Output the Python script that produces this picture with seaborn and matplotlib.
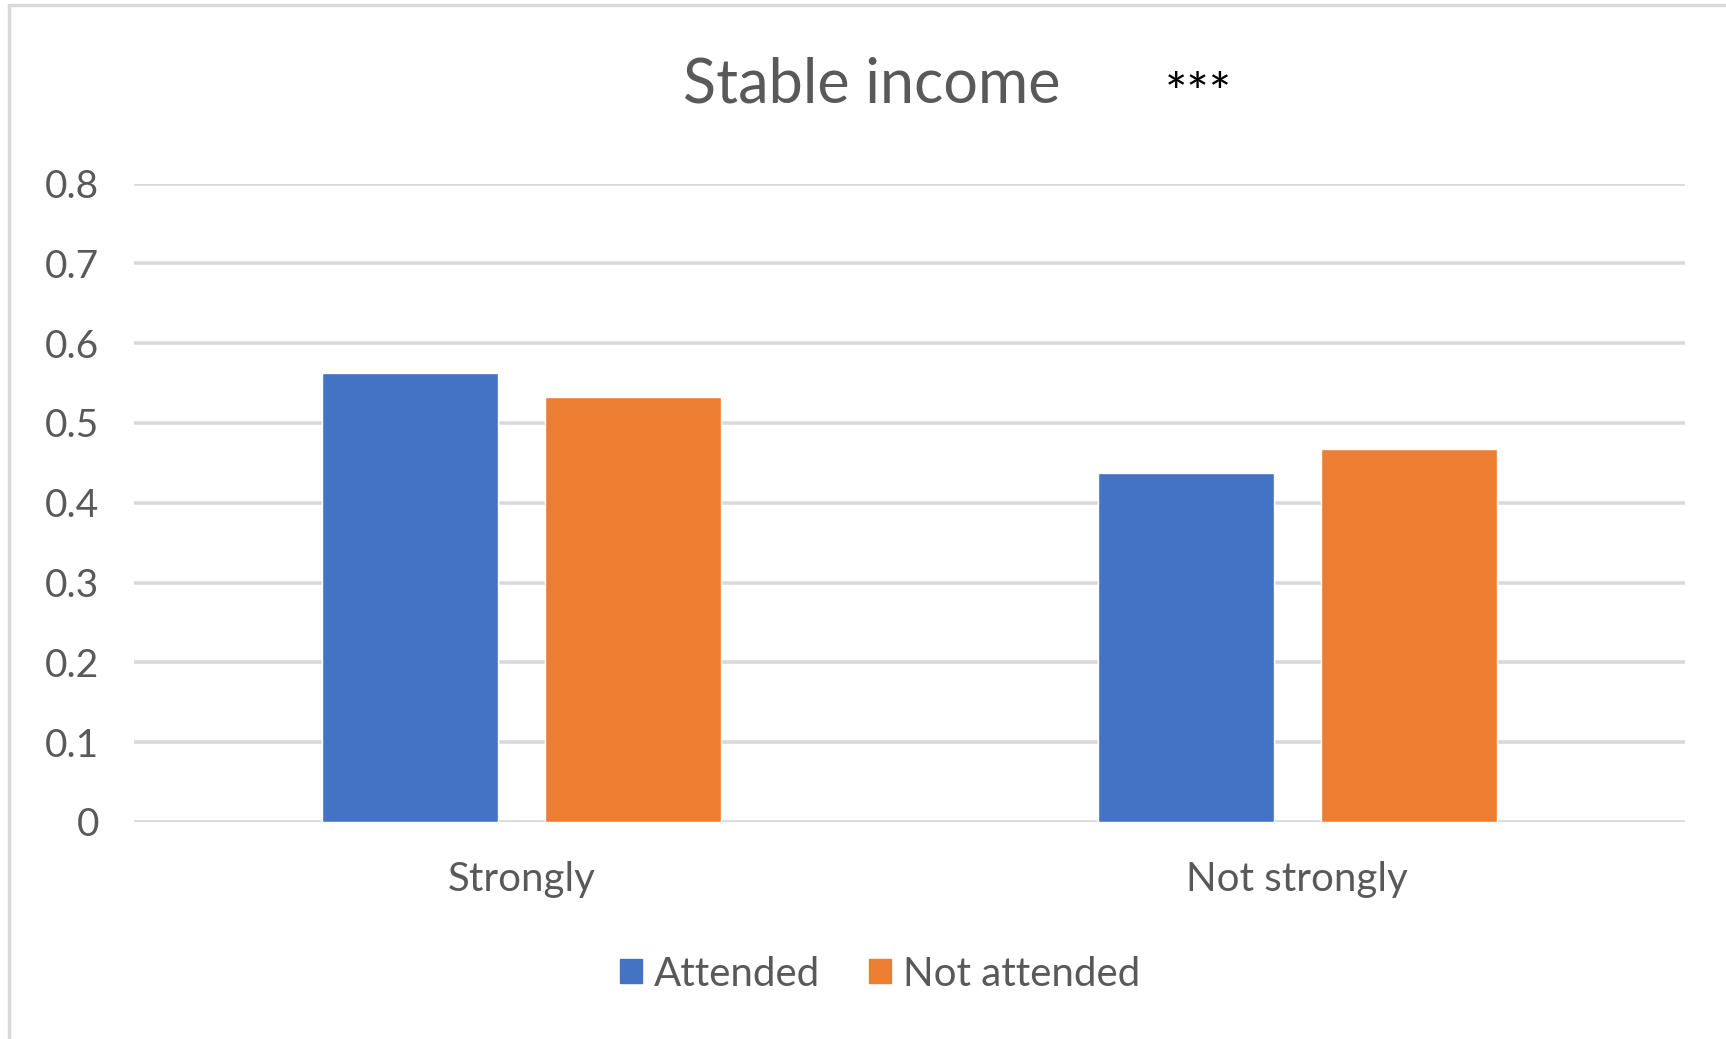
import matplotlib
matplotlib.use("Agg")
import matplotlib.pyplot as plt
import matplotlib.patches as mpatches
import seaborn as sns
import pandas as pd

categories = ["Strongly", "Not strongly"]
series_names = ["Attended", "Not attended"]
attended = [0.563, 0.437]
not_attended = [0.533, 0.467]
y_ticks = [0, 0.1, 0.2, 0.3, 0.4, 0.5, 0.6, 0.7, 0.8]
title = "Stable income"
significance = "***"

colors = {"Attended": "#4472C4", "Not attended": "#ED7D31"}

df = pd.DataFrame({
    "category": categories * 2,
    "group": [series_names[0]] * 2 + [series_names[1]] * 2,
    "value": attended + not_attended,
})

sns.set_theme(style="white")
plt.rcParams['font.family'] = ['Lato', 'DejaVu Sans']

W, H = 1726, 1039
fig = plt.figure(figsize=(W / 100, H / 100), dpi=100)
ax = fig.add_axes([134 / W, 1 - 822 / H, (1685 - 134) / W, (822 - 183.5) / H])

sns.barplot(data=df, x="category", y="value", hue="group", order=categories,
            hue_order=series_names, palette=colors, width=0.575, gap=0.21,
            saturation=1, ax=ax, legend=False, zorder=3)

ax.set_ylim(0, 0.8)
ax.set_xlim(-0.5, 1.5)
ax.set_yticks(y_ticks)
ax.set_yticklabels([f"{t:g}" for t in y_ticks])
ax.yaxis.grid(True, color="#d9d9d9", linewidth=2.6, zorder=0)
ax.set_axisbelow(True)
for s in ax.spines.values():
    s.set_visible(False)
ax.tick_params(axis="y", length=0, labelsize=28, colors="#595959", pad=25)
ax.tick_params(axis="x", length=0, labelsize=29, colors="#595959", pad=28)
ax.set_xlabel("")
ax.set_ylabel("")

fig.text(872 / W, 1 - 85 / H, title, ha="center", va="center",
         fontsize=44, color="#595959")
fig.text(1198 / W, 1 - 96 / H, significance, ha="center", va="center",
         fontsize=38, color="black")

handles = [mpatches.Patch(color=colors[n], label=n) for n in series_names]
fig.legend(handles=handles, loc="center", bbox_to_anchor=(880 / W, 1 - 974 / H),
           ncol=2, frameon=False, fontsize=29, handlelength=0.55, handleheight=0.55,
           handletextpad=0.3, columnspacing=1.2, labelcolor="#595959")

border = mpatches.Rectangle((9 / W, -0.01), 1.05, 1 - 5 / H + 0.01, transform=fig.transFigure,
                            fill=False, edgecolor="#d9d9d9", linewidth=2.5)
fig.patches.append(border)

fig.savefig("out.png", dpi=100, facecolor="white")
